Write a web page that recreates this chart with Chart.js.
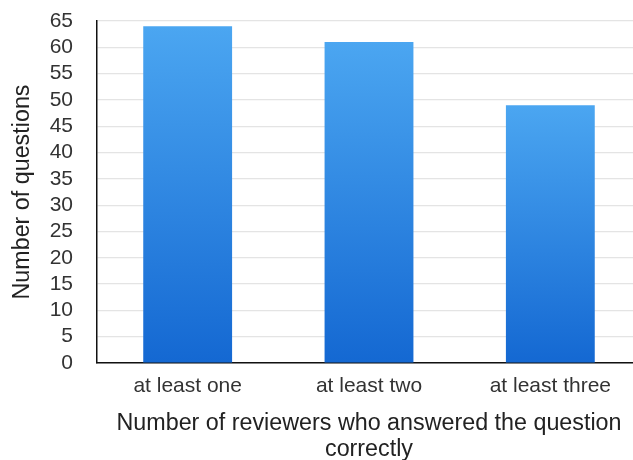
<!DOCTYPE html>
<html>
<head>
<meta charset="utf-8">
<script src="https://cdn.jsdelivr.net/npm/chart.js@4/dist/chart.umd.min.js"></script>
<style>
  html, body { margin: 0; padding: 0; background: #fff; overflow: hidden; width: 633px; height: 460px; }
  #wrap { position: absolute; left: 0; top: 0; width: 645px; height: 460px; }
</style>
</head>
<body>
<div id="wrap"><canvas id="c" width="645" height="460"></canvas></div>
<script>
// Questions answered correctly by at least N reviewers
const categories = ['at least one', 'at least two', 'at least three'];
const questionCounts = [64, 61, 49];
const yTicks = [0, 5, 10, 15, 20, 25, 30, 35, 40, 45, 50, 55, 60, 65];

const FONT = '"Liberation Sans", Arial, Helvetica, sans-serif';

// vertical blue gradient per bar, lighter at the top
function barFill(ctx) {
  const chart = ctx.chart;
  const y = chart.scales.y;
  if (!y || ctx.parsed === undefined) return '#2f86e0';
  const top = y.getPixelForValue(ctx.parsed.y);
  const bottom = y.getPixelForValue(0);
  if (!isFinite(top) || !isFinite(bottom) || top === bottom) return '#2f86e0';
  const g = chart.ctx.createLinearGradient(0, top, 0, bottom);
  g.addColorStop(0, '#4ba6f1');
  g.addColorStop(1, '#1468d2');
  return g;
}

new Chart(document.getElementById('c'), {
  type: 'bar',
  data: {
    labels: categories,
    datasets: [{
      data: questionCounts,
      backgroundColor: barFill,
      borderWidth: 0,
      barPercentage: 0.49,
      categoryPercentage: 1.0
    }]
  },
  options: {
    responsive: false,
    animation: false,
    devicePixelRatio: 1,
    layout: { padding: { top: 21, right: 4, bottom: 0, left: 0 } },
    plugins: { legend: { display: false }, tooltip: { enabled: false } },
    scales: {
      x: {
        grid: { display: false, drawTicks: false },
        border: { display: true, color: '#111', width: 1.5 },
        ticks: { color: '#333', font: { family: FONT, size: 21 }, padding: 11, maxRotation: 0 },
        title: {
          display: true,
          text: ['Number of reviewers who answered the question', 'correctly'],
          color: '#222',
          font: { family: FONT, size: 23.3, lineHeight: '26px' },
          padding: { top: 0, bottom: -3 }
        },
        afterFit(scale) { scale.height = 97; }
      },
      y: {
        min: 0,
        max: 65,
        afterBuildTicks(scale) { scale.ticks = yTicks.map(v => ({ value: v })); },
        grid: { color: '#e4e4e4', lineWidth: 1.2, drawTicks: false },
        border: { display: true, color: '#111', width: 1.5 },
        ticks: { color: '#333', font: { family: FONT, size: 21 }, padding: 24, autoSkip: false },
        title: {
          display: true,
          text: 'Number of questions',
          color: '#222',
          font: { family: FONT, size: 23.3, lineHeight: 1.2 },
          padding: { top: 9, bottom: 0 }
        },
        afterFit(scale) {
          scale.width = 97;
          // the plot keeps its own top margin; labels may overhang it
          scale.paddingTop = 0;
          scale.paddingBottom = 0;
        }
      }
    }
  }
});
</script>
</body>
</html>
